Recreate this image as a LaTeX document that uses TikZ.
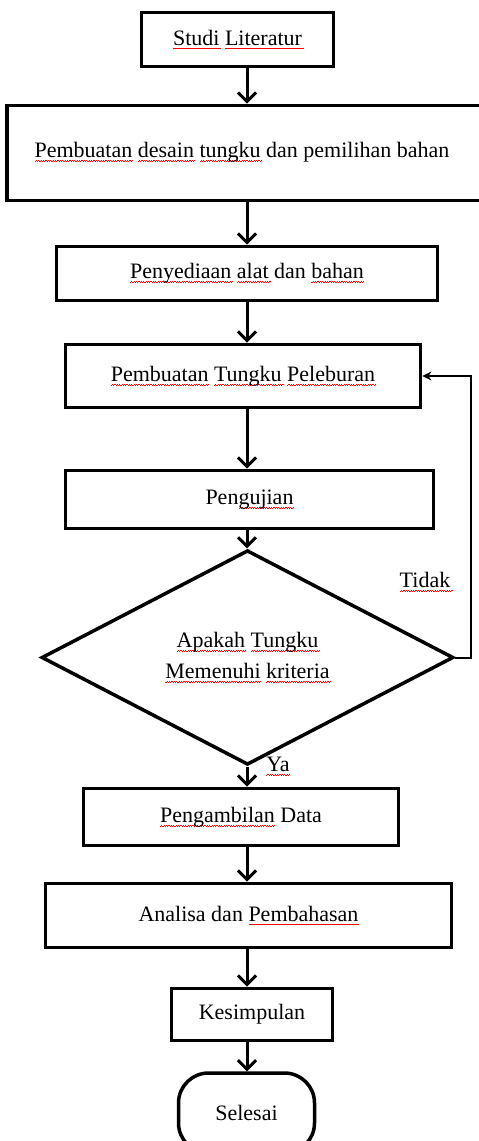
\documentclass[tikz,border=0pt]{standalone}
\usepackage{fontspec}
\setmainfont{Liberation Serif}
\usetikzlibrary{shapes.geometric,arrows.meta}
\newsavebox\sqbox
\newdimen\sqdim
\newcommand\sqloop{\sqdim=0pt\loop\ifdim\sqdim<\wd\sqbox\rule{1.2pt}{0.7pt}\raise0.8pt\hbox{\rule{1.2pt}{0.7pt}}\advance\sqdim by 2.4pt\repeat}
\newcommand\sq[1]{\sbox\sqbox{#1}\leavevmode\rlap{\lower4pt\hbox{\color{red}\sqloop}}\usebox\sqbox}
\begin{document}
\begin{tikzpicture}[x=1pt,y=-1pt,
  txt/.style={font=\fontsize{22}{31}\selectfont},
  box/.style={txt,draw,line width=3.8pt,inner sep=0pt},
  dia/.style={txt,draw,diamond,line width=3.5pt,inner sep=0pt,align=center},
  term/.style={txt,draw,line width=3.5pt,rounded corners=30pt,inner sep=0pt},
  arr/.style={line width=3pt,-{Straight Barb[length=9pt,width=18pt,line width=3pt]}},
  fb/.style={line width=2pt,-{Stealth[length=9pt,width=9pt]}},
  lbl/.style={txt,inner sep=0pt}]
\clip (0,0) rectangle (479,1141);
\fill[white] (0,0) rectangle (479,1141);
\coordinate (ax) at (247,0);
\coordinate (fbx) at (471,0);
\node[box,minimum width=192pt,minimum height=54pt] (n1) at (237.5,39.5) {\sq{Studi} \sq{Literatur}};
\node[box,minimum width=480pt,minimum height=95pt] (n2) at (247,153) {\raisebox{6pt}{\hspace*{-10pt}\sq{Pembuatan} \sq{desain} \sq{tungku} dan pemilihan bahan}};
\node[box,minimum width=381pt,minimum height=54pt] (n3) at (247,273.5) {\sq{Penyediaan} \sq{alat} dan \sq{bahan}};
\node[box,minimum width=355pt,minimum height=63pt] (n4) at (243,376) {\sq{Pembuatan} \sq{Tungku} \sq{Peleburan}};
\node[box,minimum width=368pt,minimum height=58pt] (n5) at (249.5,499.5) {Pen\sq{gujian}};
\node[dia,minimum width=412pt,minimum height=156pt] (d) at (247.5,657.5) {\sq{Apakah} \sq{Tungku}\\\sq{Memenuhi} \sq{kriteria}};
\node[box,minimum width=315pt,minimum height=57pt] (n6) at (241,817) {\sq{Pengambilan} Data};
\node[box,minimum width=406pt,minimum height=64pt] (n7) at (248.5,915.5) {\raisebox{3pt}{Analisa dan \sq{Pembahasan}}};
\node[box,minimum width=161pt,minimum height=52pt] (n8) at (252,1014.5) {Kesimpulan};
\node[term,minimum width=136pt,minimum height=80pt] (n9) at (246.5,1113) {Selesai};
\node[lbl] (tidak) at (425,582) {\sq{Tidak}};
\node[lbl] (ya) at (278,766) {\sq{Ya}};
\draw[arr] (n1.south -| ax) -- (n2.north -| ax);
\draw[arr] (n2.south -| ax) -- (n3.north -| ax);
\draw[arr] (n3.south -| ax) -- (n4.north -| ax);
\draw[arr] (n4.south -| ax) -- (n5.north -| ax);
\draw[arr] (n5.south -| ax) -- (d.north -| ax);
\draw[arr] (d.south -| ax) -- (n6.north -| ax);
\draw[arr] (n6.south -| ax) -- (n7.north -| ax);
\draw[arr] (n7.south -| ax) -- (n8.north -| ax);
\draw[arr] (n8.south -| ax) -- (n9.north -| ax);
\draw[fb] (d.east) -- (d.east -| fbx) -- (n4.east -| fbx) -- (n4.east);
\end{tikzpicture}
\end{document}
